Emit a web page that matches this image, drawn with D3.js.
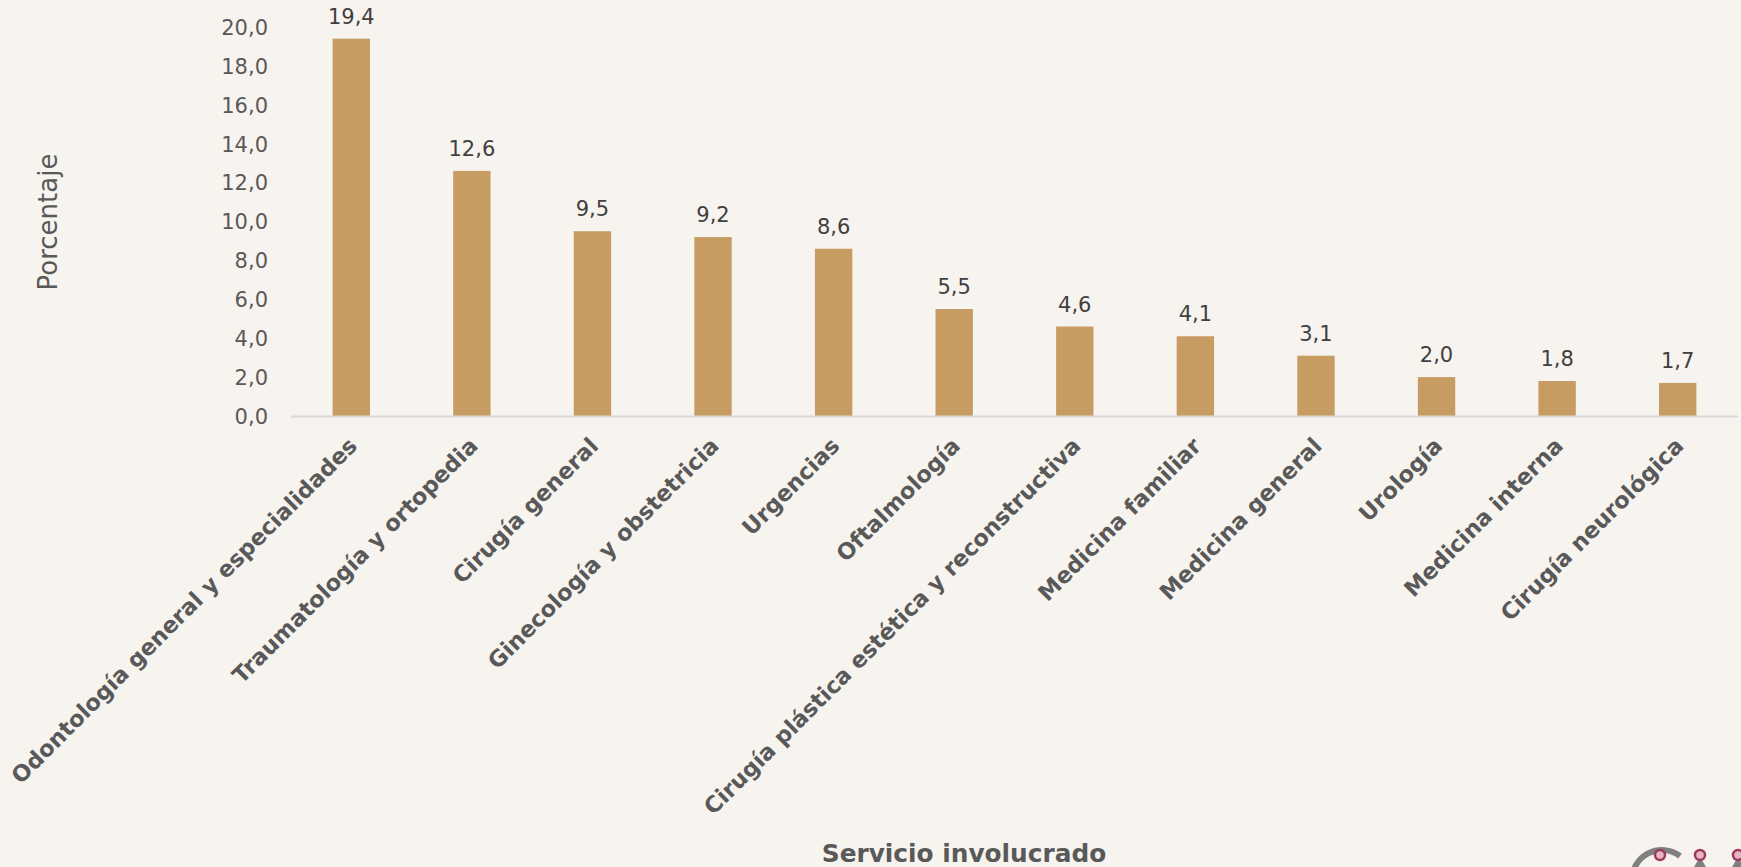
<!DOCTYPE html>
<html><head><meta charset="utf-8">
<script src="https://cdn.jsdelivr.net/npm/d3@7"></script>
<style>
html,body{margin:0;padding:0;background:#F7F3EE;}
svg{display:block;}
</style></head>
<body>
<svg id="chart" width="1741" height="867"></svg>
<script>
const categories = ["Odontología general y especialidades","Traumatología y ortopedia","Cirugía general","Ginecología y obstetricia","Urgencias","Oftalmología","Cirugía plástica estética y reconstructiva","Medicina familiar","Medicina general","Urología","Medicina interna","Cirugía neurológica"];
const values = [19.4,12.6,9.5,9.2,8.6,5.5,4.6,4.1,3.1,2.0,1.8,1.7];
const yTicks = [0,2,4,6,8,10,12,14,16,18,20];
const yTitle = "Porcentaje";
const xTitle = "Servicio involucrado";

const svg = d3.select("#chart");
const W = 1741, H = 867;
svg.append("rect").attr("width",W).attr("height",H).attr("fill","#F7F3EE");

const fmt = v => d3.format(".1f")(v).replace(".", ",");
const x = d3.scaleBand().domain(categories).range([291,1738]).paddingInner(0.69).paddingOuter(0.345);
const y = d3.scaleLinear().domain([0,20]).range([416,27]);

// y axis
const yAxis = svg.append("g").attr("transform","translate(268,0)")
  .call(d3.axisLeft(y).tickValues(yTicks).tickFormat(fmt).tickSize(0).tickPadding(0));
yAxis.select(".domain").remove();
yAxis.selectAll("text").attr("font-family","DejaVu Sans").attr("font-size",21).attr("fill","#595959").attr("dy","0.35em");

// bars
svg.append("g").selectAll("rect").data(values).join("rect")
  .attr("x",(d,i)=>x(categories[i])).attr("width",x.bandwidth())
  .attr("y",d=>y(d)).attr("height",d=>y(0)-y(d)).attr("fill","#C69C62");

// baseline
svg.append("line").attr("x1",291).attr("x2",1738).attr("y1",y(0)+0.5).attr("y2",y(0)+0.5)
  .attr("stroke","#D9D9D9").attr("stroke-width",2);

// value labels
svg.append("g").selectAll("text").data(values).join("text")
  .attr("x",(d,i)=>x(categories[i])+x.bandwidth()/2).attr("y",d=>y(d)-15)
  .attr("text-anchor","middle").attr("font-family","DejaVu Sans").attr("font-size",21)
  .attr("fill","#404040").text(d=>fmt(d));

// x category labels
svg.append("g").selectAll("text").data(categories).join("text")
  .attr("transform",(d)=>`translate(${x(d)+x.bandwidth()/2-4},${436}) rotate(-45)`)
  .attr("text-anchor","end").attr("dy","0.71em")
  .attr("font-family","DejaVu Sans").attr("font-weight","bold").attr("font-size",22.5)
  .attr("fill","#595959").text(d=>d);

// axis titles
svg.append("text").attr("transform","translate(57,222) rotate(-90)")
  .attr("text-anchor","middle").attr("font-family","DejaVu Sans").attr("font-size",26)
  .attr("fill","#595959").text(yTitle);
svg.append("text").attr("x",964).attr("y",862).attr("text-anchor","middle")
  .attr("font-family","DejaVu Sans").attr("font-weight","bold").attr("font-size",24.8)
  .attr("fill","#595959").text(xTitle);

// partial logo bottom-right
const logo = svg.append("g");
logo.append("path").attr("d","M1632,880 A30,30 0 0 1 1680,856").attr("fill","none").attr("stroke","#808080").attr("stroke-width",6);
logo.append("path").attr("d","M1694,867 L1700,857 L1706,867 Z").attr("fill","#808080");
logo.append("path").attr("d","M1732,867 L1738,857 L1744,867 Z").attr("fill","#808080");
[[1660,855],[1700,855],[1738,855]].forEach(p=>{
  logo.append("circle").attr("cx",p[0]).attr("cy",p[1]).attr("r",5).attr("fill","#E8B4C4").attr("stroke","#9B3A5C").attr("stroke-width",2.5);
});
</script>
</body></html>
